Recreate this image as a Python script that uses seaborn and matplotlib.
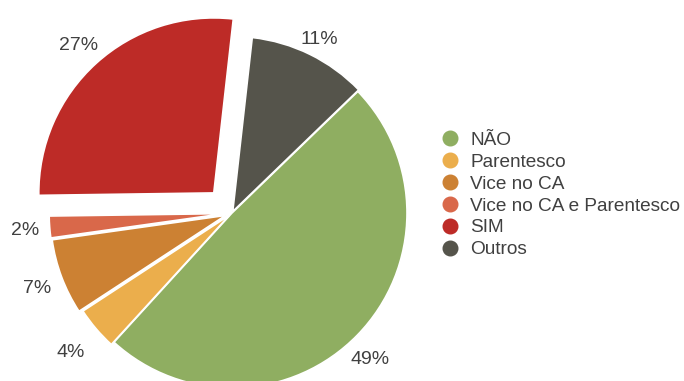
import matplotlib
matplotlib.use("Agg")
import numpy as np
import matplotlib.pyplot as plt
from matplotlib.lines import Line2D
import seaborn as sns

categories = ["NÃO", "Parentesco", "Vice no CA", "Vice no CA e Parentesco", "SIM", "Outros"]
values = [49, 4, 7, 2, 27, 11]
colors = ["#8fae61", "#ebae4c", "#cc8133", "#d9684a", "#bd2b27", "#55544b"]
explode = [0.0, 0.02, 0.04, 0.045, 0.155, 0.01]
label_dist = [1.14, 1.19, 1.15, 1.14, 1.15, 1.125]
label_nudge_px = [(-5, -5), (0, 0), (0, 0), (0, 0), (0, 0), (0, -3)]

sns.set_style("white")
plt.rcParams["font.family"] = ["Liberation Sans", "DejaVu Sans"]

W, H = 684, 381
R = 175.0
fig = plt.figure(figsize=(W / 100, H / 100), dpi=100)
ax = fig.add_axes([0, 0, 1, 1])

wedges, texts, autotexts = ax.pie(
    values, colors=colors, explode=explode, startangle=44, counterclock=False,
    autopct="%1.0f%%", pctdistance=1.15, radius=1.0,
    wedgeprops=dict(edgecolor="white", linewidth=1.2),
    textprops=dict(color="#404040", fontsize=14),
)
for w, t, d, (nx, ny) in zip(wedges, autotexts, label_dist, label_nudge_px):
    ang = np.deg2rad((w.theta1 + w.theta2) / 2)
    x0, y0 = w.center
    t.set_position((x0 + d * w.r * np.cos(ang) + nx / R,
                    y0 + d * w.r * np.sin(ang) + ny / R))
    t.set_verticalalignment("center_baseline")

cx, cy = 232.0, 381 - 213.0
ax.set_aspect("auto")
ax.set_xlim(-cx / R, (W - cx) / R)
ax.set_ylim(-cy / R, (H - cy) / R)
ax.axis("off")

handles = [Line2D([0], [0], marker="o", linestyle="", markersize=10.5,
                  markerfacecolor=c, markeredgecolor=c) for c in colors]
fig.legend(handles, categories, loc="center left", bbox_to_anchor=(439 / W, 1 - 195 / H),
           frameon=False, fontsize=13.7, labelspacing=0.24, handletextpad=0.45,
           handlelength=1.2, borderaxespad=0, borderpad=0, labelcolor="#404040")

fig.savefig("out.png", dpi=100)
